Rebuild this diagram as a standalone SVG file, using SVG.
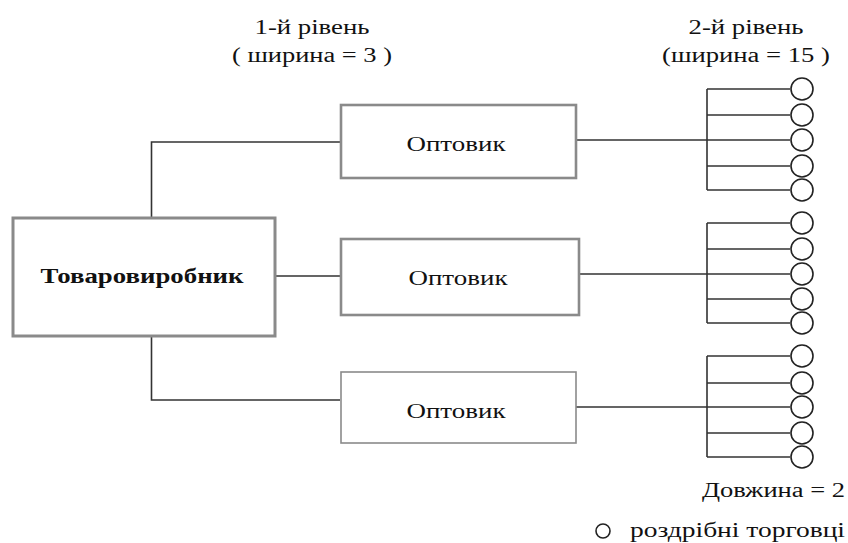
<svg xmlns="http://www.w3.org/2000/svg" width="848" height="543" viewBox="0 0 848 543">
<style>
.t{font-family:"Liberation Serif","Times New Roman",serif;font-size:20px;fill:#111}
.b{font-weight:bold}
.box{fill:#fff;stroke:#8a8a8a}
.ln{stroke:#333;stroke-width:1.6;fill:none}
.c{fill:#fff;stroke:#222;stroke-width:1.6}
</style>
<rect width="848" height="543" fill="#fff"/>
<g id="connectors">
<path class="ln" d="M340 142H151.5V218M151.5 336V400H340M275 276H340"/>
<path class="ln" d="M576 140H707M707 89V190M707 89H790M707 115H790M707 140H790M707 166H790M707 190H790"/>
<path class="ln" d="M578 274H707M707 223V323M707 223H790M707 249H790M707 274H790M707 299H790M707 323H790"/>
<path class="ln" d="M576 407H707M707 356V457M707 356H790M707 383H790M707 407H790M707 433H790M707 457H790"/>
</g>
<g id="producer">
<rect class="box" x="13" y="218" width="262" height="118" stroke-width="3"/>
<text class="t b" x="142" y="283" text-anchor="middle" textLength="203" lengthAdjust="spacingAndGlyphs">Товаровиробник</text>
</g>
<g id="wholesaler1">
<rect class="box" x="341" y="105" width="235" height="73" stroke-width="2.6"/>
<text class="t" x="456" y="151" text-anchor="middle" textLength="99" lengthAdjust="spacingAndGlyphs">Оптовик</text>
</g>
<g id="wholesaler2">
<rect class="box" x="341" y="239" width="238" height="76" stroke-width="2.6"/>
<text class="t" x="458" y="285" text-anchor="middle" textLength="99" lengthAdjust="spacingAndGlyphs">Оптовик</text>
</g>
<g id="wholesaler3">
<rect class="box" x="341" y="372" width="235" height="71" stroke-width="1.6"/>
<text class="t" x="456" y="418" text-anchor="middle" textLength="99" lengthAdjust="spacingAndGlyphs">Оптовик</text>
</g>
<g id="retailers">
<circle class="c" cx="802" cy="89" r="11"/><circle class="c" cx="802" cy="115" r="11"/><circle class="c" cx="802" cy="140" r="11"/><circle class="c" cx="802" cy="166" r="11"/><circle class="c" cx="802" cy="190" r="11"/>
<circle class="c" cx="802" cy="223" r="11"/><circle class="c" cx="802" cy="249" r="11"/><circle class="c" cx="802" cy="274" r="11"/><circle class="c" cx="802" cy="299" r="11"/><circle class="c" cx="802" cy="323" r="11"/>
<circle class="c" cx="802" cy="356" r="11"/><circle class="c" cx="802" cy="383" r="11"/><circle class="c" cx="802" cy="407" r="11"/><circle class="c" cx="802" cy="433" r="11"/><circle class="c" cx="802" cy="457" r="11"/>
</g>
<g id="labels">
<text class="t" x="312" y="34" text-anchor="middle" textLength="115" lengthAdjust="spacingAndGlyphs">1-й рівень</text>
<text class="t" x="312" y="62" text-anchor="middle" textLength="160" lengthAdjust="spacingAndGlyphs">( ширина = 3 )</text>
<text class="t" x="746" y="34" text-anchor="middle" textLength="115" lengthAdjust="spacingAndGlyphs">2-й рівень</text>
<text class="t" x="746" y="62" text-anchor="middle" textLength="168" lengthAdjust="spacingAndGlyphs">(ширина = 15 )</text>
<text class="t" x="845" y="497" text-anchor="end" textLength="143" lengthAdjust="spacingAndGlyphs">Довжина = 2</text>
<circle class="c" cx="603" cy="531" r="7" stroke-width="1.4"/>
<text class="t" x="845" y="537" text-anchor="end" textLength="215" lengthAdjust="spacingAndGlyphs">роздрібні торговці</text>
</g>
</svg>
